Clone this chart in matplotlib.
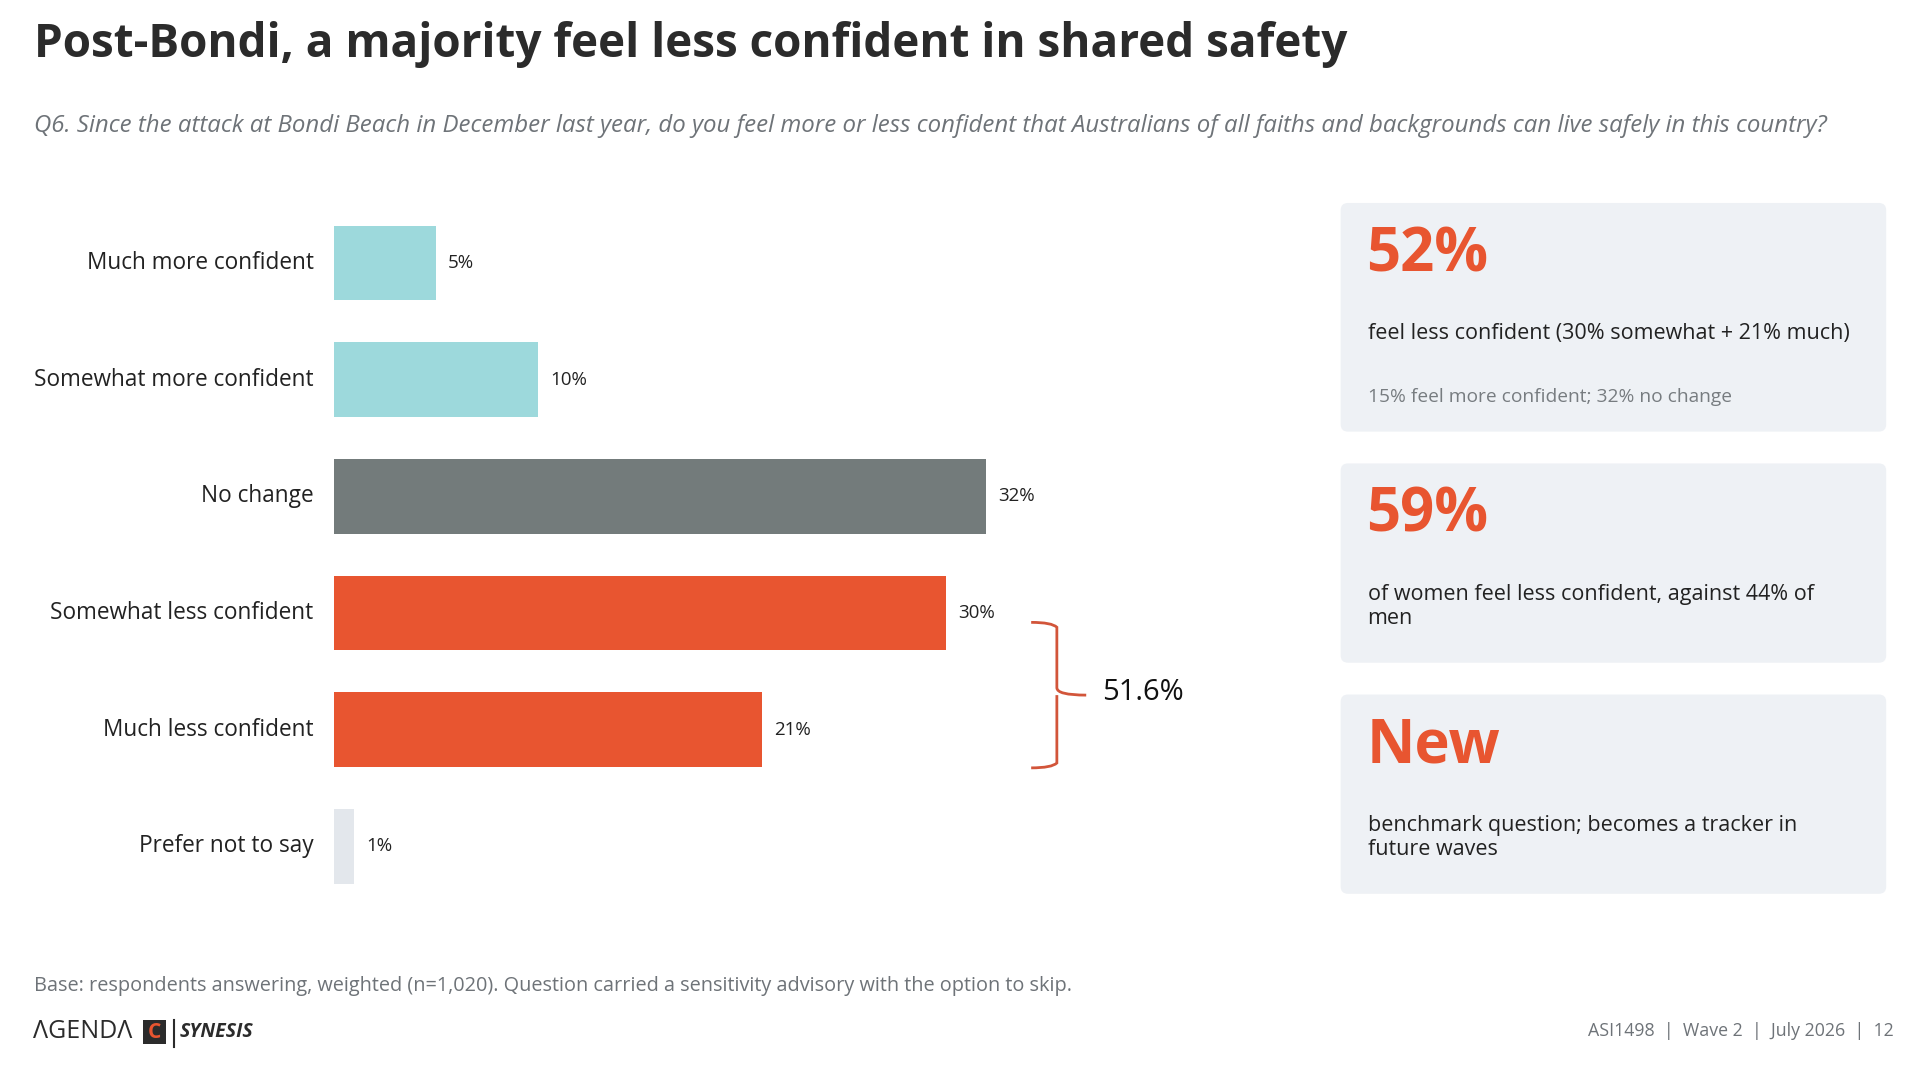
import matplotlib.pyplot as plt
from matplotlib.patches import FancyBboxPatch, Rectangle
from matplotlib.path import Path
from matplotlib.patches import PathPatch

plt.rcParams['font.family'] = ['Open Sans', 'DejaVu Sans']

categories = ["Much more confident", "Somewhat more confident", "No change",
              "Somewhat less confident", "Much less confident", "Prefer not to say"]
values = [5, 10, 32, 30, 21, 1]
labels = ["5%", "10%", "32%", "30%", "21%", "1%"]
colors = ["#9DD9DC", "#9DD9DC", "#737B7B", "#E85530", "#E85530", "#E3E7EC"]

W, H = 1568, 880
fig = plt.figure(figsize=(19.18, 10.76), dpi=100)
ov = fig.add_axes([0, 0, 1, 1])
ov.set_xlim(0, W)
ov.set_ylim(H, 0)
ov.axis('off')

ov.text(28, 36, "Post-Bondi, a majority feel less confident in shared safety",
        fontsize=33, fontweight='bold', color="#2B2B2B", va='center')
ov.text(28, 103, "Q6. Since the attack at Bondi Beach in December last year, do you feel more or less "
        "confident that Australians of all faiths and backgrounds can live safely in this country?",
        fontsize=17.3, style='italic', color="#6E7378", va='center')

# bars
ax = fig.add_axes([273 / W, 1 - 739.75 / H, 800 / W, (739.75 - 167.25) / H])
ax.set_xlim(0, 48)
ax.set_ylim(5.5, -0.5)
ax.axis('off')
ys = range(len(values))
ax.barh(ys, values, height=0.64, color=colors)
for y, v, lab, cat in zip(ys, values, labels, categories):
    ax.text(v + 0.6, y, lab, fontsize=13.5, color="#222222", va='center')
    ax.text(-1, y, cat, fontsize=16.3, color="#222222", va='center', ha='right')

# bracket
bx, top, bot, mid = 864, 509, 628, (509 + 628) / 2
verts = [(843, top), (860, top), (bx, top + 4), (bx, mid - 6), (bx, mid), (888, mid),
         (bx, mid), (bx, mid + 6), (bx, bot - 4), (860, bot), (843, bot)]
codes = [Path.MOVETO, Path.CURVE3, Path.CURVE3, Path.LINETO, Path.CURVE3, Path.CURVE3,
         Path.MOVETO, Path.CURVE3, Path.LINETO, Path.CURVE3, Path.CURVE3]
ov.add_patch(PathPatch(Path(verts, codes), fill=False, edgecolor="#D2553A", lw=2))
ov.text(901, 566, "51.6%", fontsize=21, color="#111111", va='center')

# panels
panels = [
    (166, 353, "52%", ["feel less confident (30% somewhat + 21% much)"], "15% feel more confident; 32% no change"),
    (379, 542, "59%", ["of women feel less confident, against 44% of", "men"], None),
    (568, 731, "New", ["benchmark question; becomes a tracker in", "future waves"], None),
]
for y0, y1, big, body, note in panels:
    ov.add_patch(FancyBboxPatch((1096, y0), 446, y1 - y0, boxstyle="round,pad=0,rounding_size=6",
                                facecolor="#EEF1F5", edgecolor='none'))
    ov.text(1117, y0 + 43, big, fontsize=43, fontweight='bold', color="#E85530", va='center')
    for i, line in enumerate(body):
        ov.text(1118, y0 + 107 + i * 20, line, fontsize=15.5, color="#222222", va='center')
    if note:
        ov.text(1118, y0 + 159, note, fontsize=13.8, color="#777C80", va='center')

ov.text(28, 806, "Base: respondents answering, weighted (n=1,020). Question carried a sensitivity "
        "advisory with the option to skip.", fontsize=14.3, color="#6E7378", va='center')

# logo
ov.text(27, 844, "ΛGENDΛ", fontsize=18, color="#2B2B2B", va='center')
ov.add_patch(Rectangle((117, 834), 19, 20, facecolor="#2B2B2B"))
ov.text(126.5, 844.5, "C", fontsize=15, fontweight='bold', color="#E85530", va='center', ha='center')
ov.plot([142, 142], [834, 856], color="#2B2B2B", lw=1.5)
ov.text(147, 844, "SYNESIS", fontsize=14, fontweight='bold', style='italic', color="#2B2B2B", va='center')

ov.text(1548, 843, "ASI1498  |  Wave 2  |  July 2026  |  12", fontsize=12.8, color="#6E7378",
        va='center', ha='right')

fig.savefig("out.png", dpi=100, facecolor='white')
